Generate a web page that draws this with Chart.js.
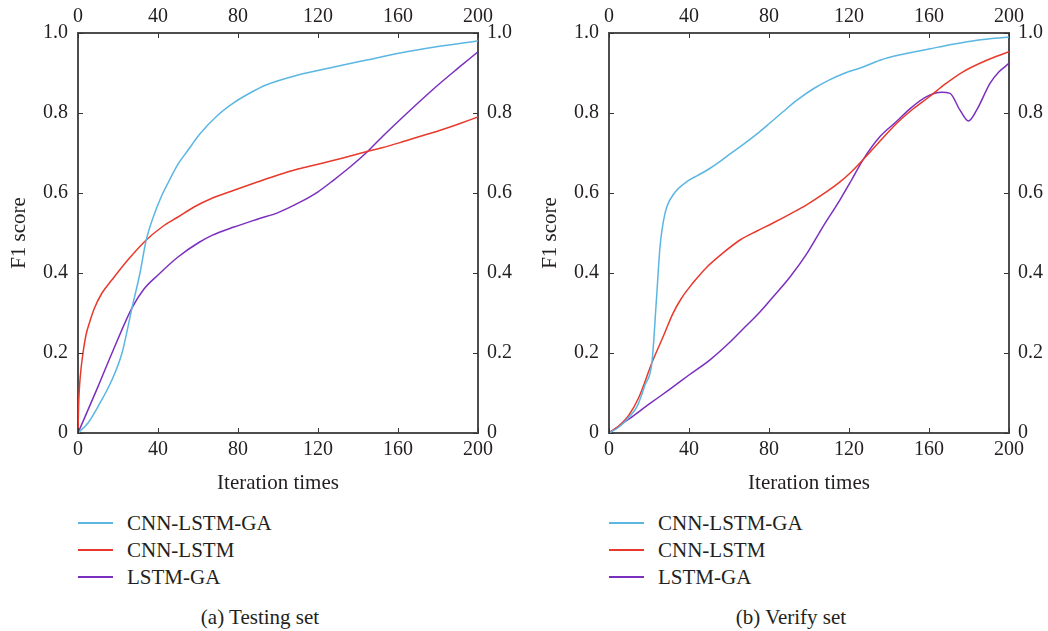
<!DOCTYPE html>
<html>
<head>
<meta charset="utf-8">
<title>F1 score vs iteration times</title>
<script src="https://cdn.jsdelivr.net/npm/chart.js@4/dist/chart.umd.min.js"></script>
<style>
  body { margin: 0; background: #fff; width: 1048px; height: 631px; position: relative; overflow: hidden;
         font-family: "Liberation Serif", "DejaVu Serif", "Noto Serif", Tinos, "Times New Roman", serif; color: #231f20; }
  canvas { position: absolute; top: 0; }
  #testChart { left: 0; }
  #verifyChart { left: 531px; }
  .legend-row { position: absolute; height: 24px; line-height: 24px; font-size: 21px; white-space: nowrap; }
  .legend-row .swatch { position: absolute; left: 0; top: 11px; width: 35px; height: 2px; }
  .legend-row .label { position: absolute; left: 49px; top: 0; }
  .caption { position: absolute; top: 605px; width: 200px; margin-left: -100px; text-align: center;
             font-size: 21px; line-height: 24px; }
</style>
</head>
<body>
<canvas id="testChart" width="524" height="500"></canvas>
<canvas id="verifyChart" width="517" height="500"></canvas>
<div id="legends"></div>
<div class="caption" style="left:260px">(a) Testing set</div>
<div class="caption" style="left:791px">(b) Verify set</div>

<script>
// Series names and colours
const seriesNames = ['CNN-LSTM-GA', 'CNN-LSTM', 'LSTM-GA'];
const seriesColors = ['#5bb6e2', '#e8392b', '#7b2fbf'];

// Axis ticks
const iterTicks = [0, 40, 80, 120, 160, 200];
const f1Ticks = [0, 0.2, 0.4, 0.6, 0.8, 1.0];

// (a) Testing set
const testIterGa = [0, 5, 10, 17, 22, 27, 31, 34, 38, 42, 45, 50, 55, 61, 70, 78, 86, 94, 110, 128, 145, 161, 180, 200];
const testF1Ga = [0, 0.025, 0.066, 0.133, 0.2, 0.313, 0.4, 0.48, 0.545, 0.595, 0.625, 0.672, 0.707, 0.748, 0.795, 0.826, 0.85, 0.87, 0.895, 0.915, 0.933, 0.95, 0.966, 0.98];

const testIterCnn = [0, 0.3, 0.8, 1.5, 2.5, 4, 6, 8.3, 12, 17, 25, 34, 42, 50, 58, 67, 78, 90, 100, 110, 120, 132, 144, 152, 161, 170, 180, 190, 200];
const testF1Cnn = [0, 0.07, 0.12, 0.16, 0.2, 0.245, 0.28, 0.313, 0.35, 0.383, 0.433, 0.482, 0.515, 0.54, 0.565, 0.587, 0.607, 0.628, 0.645, 0.66, 0.672, 0.687, 0.703, 0.713, 0.726, 0.74, 0.755, 0.772, 0.79];

const testIterLstm = [0, 10, 17, 27, 33, 40, 50, 60, 67, 78, 90, 100, 111, 120, 128, 136, 144, 152, 161, 170, 180, 190, 200];
const testF1Lstm = [0, 0.116, 0.2, 0.313, 0.36, 0.395, 0.44, 0.475, 0.494, 0.515, 0.535, 0.551, 0.577, 0.603, 0.633, 0.665, 0.7, 0.74, 0.783, 0.825, 0.87, 0.912, 0.953];

// (b) Verify set
const verifyIterGa = [0, 5, 10, 14, 18, 21.5, 23.8, 25.5, 28, 32, 40, 44, 50, 55, 60, 67, 74, 80, 87, 94, 102, 110, 118, 127, 135.5, 147, 160, 172, 184, 200];
const verifyF1Ga = [0, 0.015, 0.04, 0.066, 0.12, 0.178, 0.34, 0.465, 0.549, 0.595, 0.632, 0.643, 0.66, 0.677, 0.696, 0.721, 0.748, 0.773, 0.803, 0.832, 0.86, 0.882, 0.9, 0.915, 0.932, 0.947, 0.96, 0.972, 0.982, 0.99];

const verifyIterCnn = [0, 5, 10, 15, 21.8, 27, 32, 36, 40.5, 45, 49, 57, 65.5, 74, 82, 90, 99, 107, 115.5, 121, 127, 135, 144, 152, 160, 168, 177, 188, 200];
const verifyF1Cnn = [0, 0.018, 0.045, 0.09, 0.18, 0.24, 0.299, 0.335, 0.366, 0.393, 0.415, 0.45, 0.4825, 0.505, 0.525, 0.546, 0.571, 0.597, 0.628, 0.652, 0.683, 0.727, 0.775, 0.81, 0.84, 0.872, 0.903, 0.93, 0.953];

const verifyIterLstm = [0, 10, 20, 30, 40, 50.5, 60, 67, 75, 82, 90.5, 99, 107, 115.5, 121, 127, 135.5, 144, 151, 158.8, 166.3, 170.5, 175.5, 179.7, 183.8, 190.5, 195, 200];
const verifyF1Lstm = [0, 0.035, 0.072, 0.108, 0.145, 0.183, 0.225, 0.26, 0.3, 0.34, 0.39, 0.449, 0.516, 0.583, 0.63, 0.683, 0.741, 0.78, 0.813, 0.841, 0.852, 0.849, 0.807, 0.78, 0.807, 0.874, 0.903, 0.924];

const ink = '#231f20';
const frame = '#4d4d4d';
const serif = '"Liberation Serif", "DejaVu Serif", "Noto Serif", Tinos, "Times New Roman", serif';
const tickFont = { family: serif, size: 20 };
const titleFont = { family: serif, size: 21 };

function toPoints(xs, ys) {
  return xs.map((x, i) => ({ x: x, y: ys[i] }));
}

// Small tick marks pointing into the plot on all four sides
const innerTicks = {
  id: 'innerTicks',
  afterDraw(chart) {
    const { ctx, chartArea: a, scales } = chart;
    ctx.save();
    ctx.strokeStyle = '#333';
    ctx.lineWidth = 1;
    ctx.beginPath();
    iterTicks.forEach(v => {
      const px = Math.round(scales.x.getPixelForValue(v)) + 0.5;
      ctx.moveTo(px, a.bottom); ctx.lineTo(px, a.bottom - 5);
      ctx.moveTo(px, a.top); ctx.lineTo(px, a.top + 5);
    });
    f1Ticks.forEach(v => {
      const py = Math.round(scales.y.getPixelForValue(v)) + 0.5;
      ctx.moveTo(a.left, py); ctx.lineTo(a.left + 5, py);
      ctx.moveTo(a.right, py); ctx.lineTo(a.right - 5, py);
    });
    ctx.stroke();
    ctx.restore();
  }
};

function axis(position, extra) {
  return Object.assign({
    type: 'linear',
    position: position,
    grid: { display: false, drawTicks: false },
    border: { display: true, color: frame, width: 2 },
    ticks: { color: ink, font: tickFont }
  }, extra);
}

function renderPanel(canvasId, xsList, ysList, rightWidth) {
  const ctx = document.getElementById(canvasId).getContext('2d');
  const f1Label = v => (v === 0 ? '0' : v.toFixed(1));

  new Chart(ctx, {
    type: 'line',
    data: {
      datasets: seriesNames.map((name, i) => ({
        label: name,
        data: toPoints(xsList[i], ysList[i]),
        borderColor: seriesColors[i],
        backgroundColor: seriesColors[i],
        borderWidth: 1.5,
        pointRadius: 0,
        cubicInterpolationMode: 'monotone',
        fill: false
      }))
    },
    options: {
      responsive: false,
      animation: false,
      layout: { padding: 0 },
      plugins: { legend: { display: false }, tooltip: { enabled: false } },
      scales: {
        x: axis('bottom', {
          min: 0, max: 200,
          ticks: { color: ink, font: tickFont, stepSize: 40, padding: 5 },
          title: { display: true, text: 'Iteration times', color: ink, font: titleFont, padding: { top: 0, bottom: 4 } },
          afterFit: s => { s.height = 67; }
        }),
        x2: axis('top', {
          min: 0, max: 200,
          ticks: { color: ink, font: tickFont, stepSize: 40, padding: 4 },
          afterFit: s => { s.height = 33; }
        }),
        y: axis('left', {
          min: 0, max: 1,
          ticks: { color: ink, font: tickFont, stepSize: 0.2, padding: 10, callback: f1Label },
          title: { display: true, text: 'F1 score', color: ink, font: titleFont, padding: { top: 7, bottom: 0 } },
          afterFit: s => { s.width = 78; }
        }),
        y2: axis('right', {
          min: 0, max: 1,
          ticks: { color: ink, font: tickFont, stepSize: 0.2, padding: 9, callback: f1Label },
          afterFit: s => { s.width = rightWidth; }
        })
      }
    },
    plugins: [innerTicks]
  });
}

// Legend rows under each panel
function renderLegend(left) {
  const box = document.getElementById('legends');
  seriesNames.forEach((name, i) => {
    const row = document.createElement('div');
    row.className = 'legend-row';
    row.style.left = left + 'px';
    row.style.top = (511 + i * 27) + 'px';
    row.innerHTML = '<span class="swatch" style="background:' + seriesColors[i] + '"></span>' +
                    '<span class="label">' + name + '</span>';
    box.appendChild(row);
  });
}

renderPanel('testChart', [testIterGa, testIterCnn, testIterLstm], [testF1Ga, testF1Cnn, testF1Lstm], 46);
renderPanel('verifyChart', [verifyIterGa, verifyIterCnn, verifyIterLstm], [verifyF1Ga, verifyF1Cnn, verifyF1Lstm], 39);
renderLegend(78);
renderLegend(609);
</script>
</body>
</html>
